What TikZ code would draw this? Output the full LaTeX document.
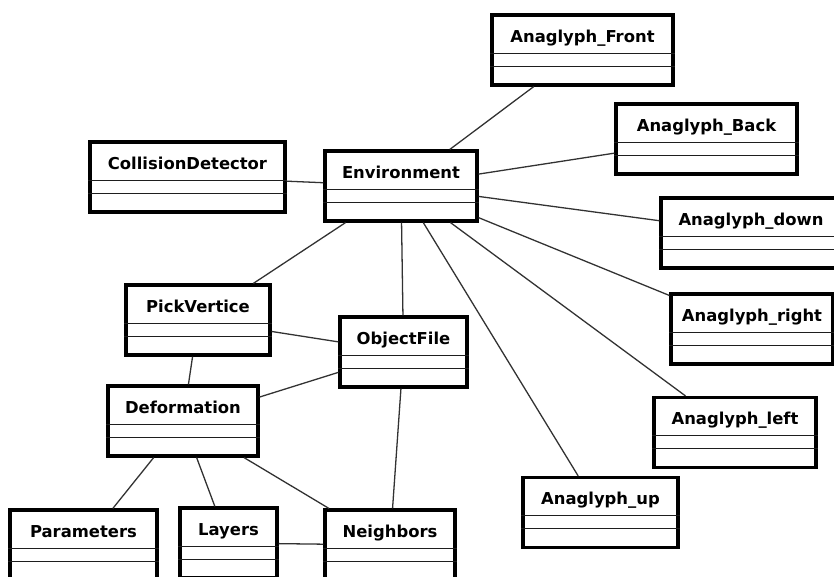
\documentclass[tikz,border=0pt]{standalone}
\usepackage{fontspec}
\usepackage{tikz}
\usetikzlibrary{calc}
\newfontfamily\umlfont{DejaVu Sans}
\definecolor{boxline}{RGB}{0,0,0}
\definecolor{linkgray}{RGB}{50,50,50}
\definecolor{sepgray}{RGB}{30,30,30}
\tikzset{
  classbox/.style={rectangle, draw=boxline, fill=white, line width=2.7pt,
    minimum height=2.1cm, inner sep=0pt},
  classtitle/.style={anchor=base, inner sep=0pt, font=\umlfont\bfseries\fontsize{14}{16}\selectfont},
  sepline/.style={draw=sepgray, line width=0.9pt},
  link/.style={draw=linkgray, line width=1.1pt}
}
% one UML class: name, centre x, centre y, width, title
\newcommand{\umlclass}[5]{%
  \node[classbox, minimum width=#4*0.03cm] (#1) at (#2,#3) {};
  \node[classtitle] (#1-title) at ($(#1.north)+(0,-29)$) {#5};
  \draw[sepline] ($(#1.north west)+(0,-40)$) -- ($(#1.north east)+(0,-40)$);
  \draw[sepline] ($(#1.north west)+(0,-53)$) -- ($(#1.north east)+(0,-53)$);
}

\begin{document}
\begin{tikzpicture}[x=0.03cm, y=0.03cm]
  \useasboundingbox (0,0) rectangle (834,-576);
  \clip (0,0) rectangle (834,-576);
  \fill[white] (0,0) rectangle (834,-576);

  % Classes
  \umlclass{front}{582.5}{-50}{181}{Anaglyph\_Front}
  \umlclass{back}{706.5}{-139}{181}{Anaglyph\_Back}
  \umlclass{down}{751}{-233}{180}{Anaglyph\_down}
  \umlclass{right}{752}{-329}{162}{Anaglyph\_right}
  \umlclass{left}{735}{-432.5}{162}{Anaglyph\_left}
  \umlclass{up}{600.5}{-512.5}{155}{Anaglyph\_up}
  \umlclass{collision}{187.5}{-177}{195}{CollisionDetector}
  \umlclass{env}{401}{-186}{152}{Environment}
  \umlclass{pick}{198}{-320}{144}{PickVertice}
  \umlclass{objfile}{403.5}{-352}{127}{ObjectFile}
  \umlclass{deform}{183}{-421}{150}{Deformation}
  \umlclass{params}{83.5}{-545}{147}{Parameters}
  \umlclass{layers}{228.5}{-543}{97}{Layers}
  \umlclass{neighbors}{390}{-545}{130}{Neighbors}

  % Associations of Environment
  \draw[link] (env) -- (front);
  \draw[link] (env) -- (back);
  \draw[link] (env) -- (down);
  \draw[link] (env) -- (right);
  \draw[link] (env) -- (left);
  \draw[link] (env) -- (up);
  \draw[link] (env) -- (collision);
  \draw[link] (env) -- (pick);
  \draw[link] (env) -- (objfile);

  % Associations of the mesh classes
  \draw[link] (pick) -- (objfile);
  \draw[link] (pick) -- (deform);
  \draw[link] (deform) -- (objfile);
  \draw[link] (deform) -- (params);
  \draw[link] (deform) -- (layers);
  \draw[link] (deform) -- (neighbors);
  \draw[link] (objfile) -- (neighbors);
  \draw[link] (layers) -- (neighbors);
\end{tikzpicture}
\end{document}
